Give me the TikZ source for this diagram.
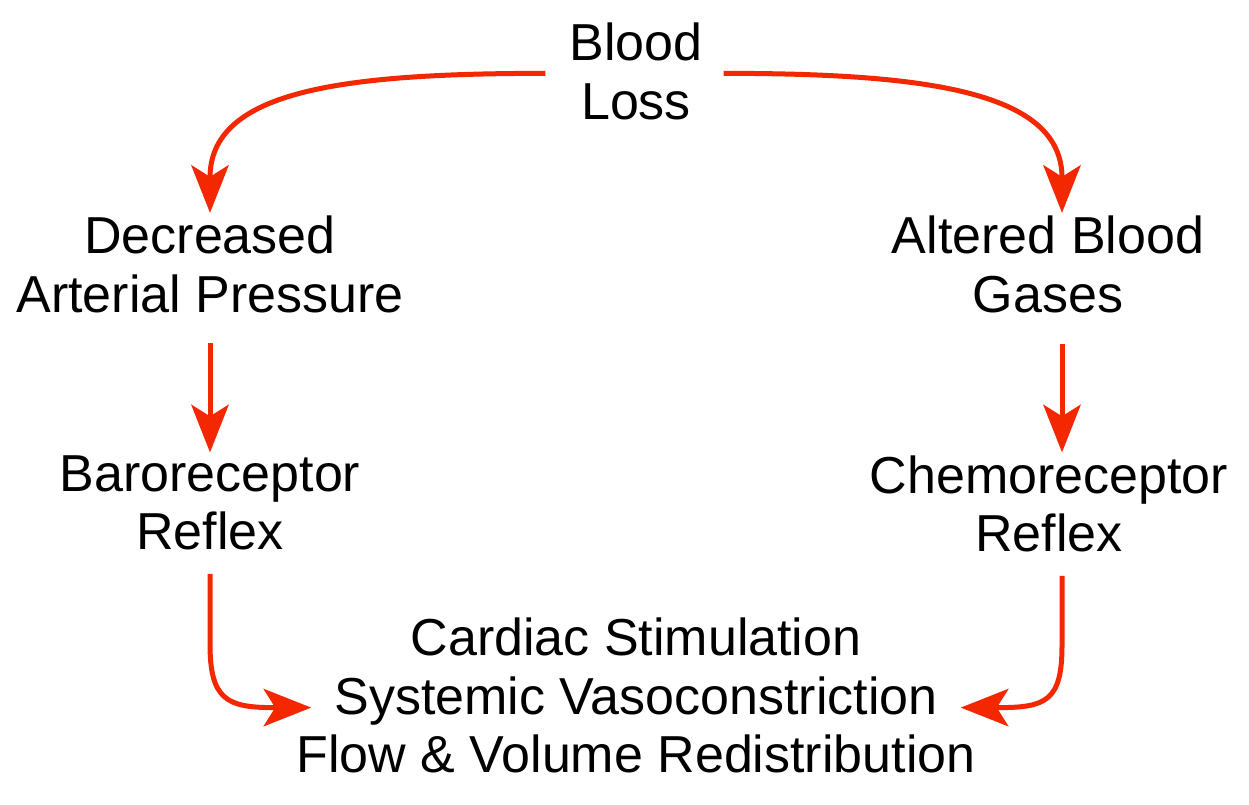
\documentclass[tikz,border=0pt]{standalone}
\usepackage{fontspec}
\setmainfont{Liberation Sans}
\usetikzlibrary{arrows.meta}
\definecolor{arrowred}{RGB}{243,39,0}
\begin{document}
\begin{tikzpicture}[x=1pt,y=-1pt,
  lbl/.style={align=center, inner sep=3pt, anchor=north, font=\fontsize{52}{58.5}\selectfont},
  arr/.style={draw=arrowred, line width=5pt, line join=round,
    -{Stealth[length=48pt,width=38pt,inset=12pt,line width=0pt,fill=arrowred]}}]
\fill[white] (0,0) rectangle (1249,804);
\node[lbl] (bl)  at (636,19.8)  {Blood\\Loss};
\node[lbl] (dap) at (210,212.8) {Decreased\\Arterial Pressure};
\node[lbl] (abg) at (1048,212.8) {Altered Blood\\Gases};
\node[lbl] (br)  at (210,452.3) {Baroreceptor\\Reflex};
\node[lbl] (cr)  at (1049,452.3) {Chemoreceptor\\Reflex};
\node[lbl] (out) at (636,614.8) {Cardiac Stimulation\\Systemic Vasoconstriction\\Flow \& Volume Redistribution};
% top curved arrows
\draw[arr] ([xshift=-21pt,yshift=-2pt]bl.west) .. controls +(-208,0) and +(0,-86) .. ([yshift=35pt]dap.north) -- (dap.north);
\draw[arr] ([xshift=18pt,yshift=-2pt]bl.east) .. controls +(204,0) and +(0,-86) .. ([xshift=14pt,yshift=35pt]abg.north) -- ([xshift=14pt]abg.north);
% vertical arrows
\draw[arr] ([yshift=-27.5pt]dap.south) -- (br.north);
\draw[arr] ([xshift=14pt,yshift=-28pt]abg.south) -- ([xshift=13pt]cr.north);
% bottom curved arrows
\draw[arr] ([yshift=-20.4pt]br.south) -- ++(0,70) .. controls +(0,55) and +(-47,0) .. ([xshift=-20pt,yshift=-12pt]out.west) -- ([xshift=18pt,yshift=-12pt]out.west);
\draw[arr] ([xshift=13pt,yshift=-20.4pt]cr.south) -- ++(0,70) .. controls +(0,55) and +(47,0) .. ([xshift=20pt,yshift=-12pt]out.east) -- ([xshift=-18pt,yshift=-12pt]out.east);
\end{tikzpicture}
\end{document}
